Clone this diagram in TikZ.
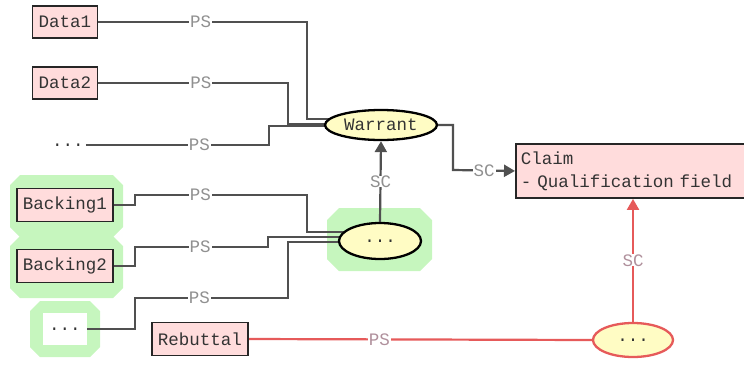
\documentclass[tikz,border=0pt]{standalone}
\usepackage{fontspec}
\newfontfamily\diagmono{Liberation Mono}
\usetikzlibrary{arrows.meta,shapes.geometric}
\pgfdeclarelayer{halolayer}
\pgfdeclarelayer{linelayer}
\pgfsetlayers{halolayer,linelayer,main}
\definecolor{boxfill}{HTML}{FFDCDC}
\definecolor{ellfill}{HTML}{FFFCC4}
\definecolor{halogreen}{HTML}{C6F6BE}
\definecolor{linegray}{HTML}{505050}
\definecolor{lblgray}{HTML}{909090}
\definecolor{redline}{HTML}{E65A5A}
\definecolor{redlbl}{HTML}{B0909C}
\newcommand\halobox[5]{% x1 y1 x2 y2 chamfer
  \fill[halogreen] ({#1+#5},#2) -- ({#3-#5},#2) -- (#3,{#2+#5}) -- (#3,{#4-#5}) -- ({#3-#5},#4) -- ({#1+#5},#4) -- (#1,{#4-#5}) -- (#1,{#2+#5}) -- cycle;}
\tikzset{
  txt/.style={font=\diagmono\fontsize{17.5}{23}\selectfont, text=black!80},
  databox/.style={txt, rectangle, draw=black!85, line width=1.9pt, fill=boxfill, minimum height=32pt, inner sep=0pt},
  ellnode/.style={txt, ellipse, draw=black, line width=2.3pt, fill=ellfill, inner sep=0pt},
  rednode/.style={ellnode, draw=redline},
  conn/.style={draw=linegray, line width=2.2pt},
  redconn/.style={draw=redline, line width=2.2pt},
  lbl/.style={font=\diagmono\fontsize{17.5}{17.5}\selectfont, text=lblgray, fill=white, inner xsep=1pt, inner ysep=0pt},
  redlabel/.style={lbl, text=redlbl},
  tip/.style={-{Triangle[length=11pt,width=12pt]}},
}
\begin{document}
\begin{tikzpicture}[x=1pt,y=-1pt]
\useasboundingbox (0,0) rectangle (744,365);
% nodes
\node[databox, minimum width=65pt] (d1) at (65,22) {Data1};
\node[databox, minimum width=65pt] (d2) at (65,83) {Data2};
\node[txt, inner sep=2pt] (dd) at (68,145) {...};
\node[ellnode, minimum width=112pt, minimum height=30pt] (w) at (381,125) {Warrant};
\node[txt, rectangle, draw=black!85, line width=1.9pt, fill=boxfill, anchor=north west,
      minimum width=250pt, minimum height=54pt, text width=240pt, align=left, inner xsep=5pt, inner ysep=3pt] (claim) at (515,143) {Claim\\- Qualification field};
\node[databox, minimum width=96pt, minimum height=33pt] (b1) at (65,205) {Backing1};
\node[databox, minimum width=96pt, minimum height=33pt] (b2) at (65,266) {Backing2};
\node[txt, rectangle, fill=white, minimum width=44pt, minimum height=32pt, inner sep=0pt] (bd) at (65,329) {...};
\node[ellnode, minimum width=82pt, minimum height=36pt] (be) at (380,241) {...};
\node[databox, minimum width=96pt, minimum height=33pt] (reb) at (200,339) {Rebuttal};
\node[rednode, minimum width=80pt, minimum height=34pt] (re) at (633,340) {...};
% halos
\begin{pgfonlayer}{halolayer}
  \halobox{10}{175}{123}{237}{10}
  \halobox{10}{236}{123}{298}{10}
  \halobox{30}{301}{100}{357}{10}
  \halobox{327}{208}{432}{271}{12}
\end{pgfonlayer}
% connectors
\begin{pgfonlayer}{linelayer}
  \draw[conn] (d1.east) -- node[lbl, pos=0.49]{PS} (307,22) |- ([yshift=6pt]w.center);
  \draw[conn] (d2.east) -- node[lbl, pos=0.54]{PS} (288,83) |- ([yshift=1pt]w.center);
  \draw[conn] (dd.east) -- node[lbl, pos=0.62]{PS} (269,145) |- ([yshift=-1pt]w.center);
  \draw[conn] (b1.east) -- (135,205) -- (135,195) -- node[lbl, pos=0.38]{PS} (307,195) |- ([yshift=9pt]be.center);
  \draw[conn] (b2.east) -- (135,266) -- (135,247) -- node[lbl, pos=0.49]{PS} (268,247) |- ([yshift=4pt]be.center);
  \draw[conn] (bd.east) -- (135,329) -- (135,298) -- node[lbl, pos=0.42]{PS} (288,298) |- ([yshift=-1pt]be.center);
  \draw[redconn] (reb.east) -- node[redlabel, pos=0.38]{PS} (re.west);
\end{pgfonlayer}
\draw[conn, tip, linegray] (w.east) -| (453,170) -- node[lbl]{SC} (claim.west);
\draw[conn, tip] (be.north) -- node[lbl]{SC} (w.south);
\draw[redconn, tip] (re.north) -- node[redlabel]{SC} (re.north |- claim.south);
\end{tikzpicture}
\end{document}
